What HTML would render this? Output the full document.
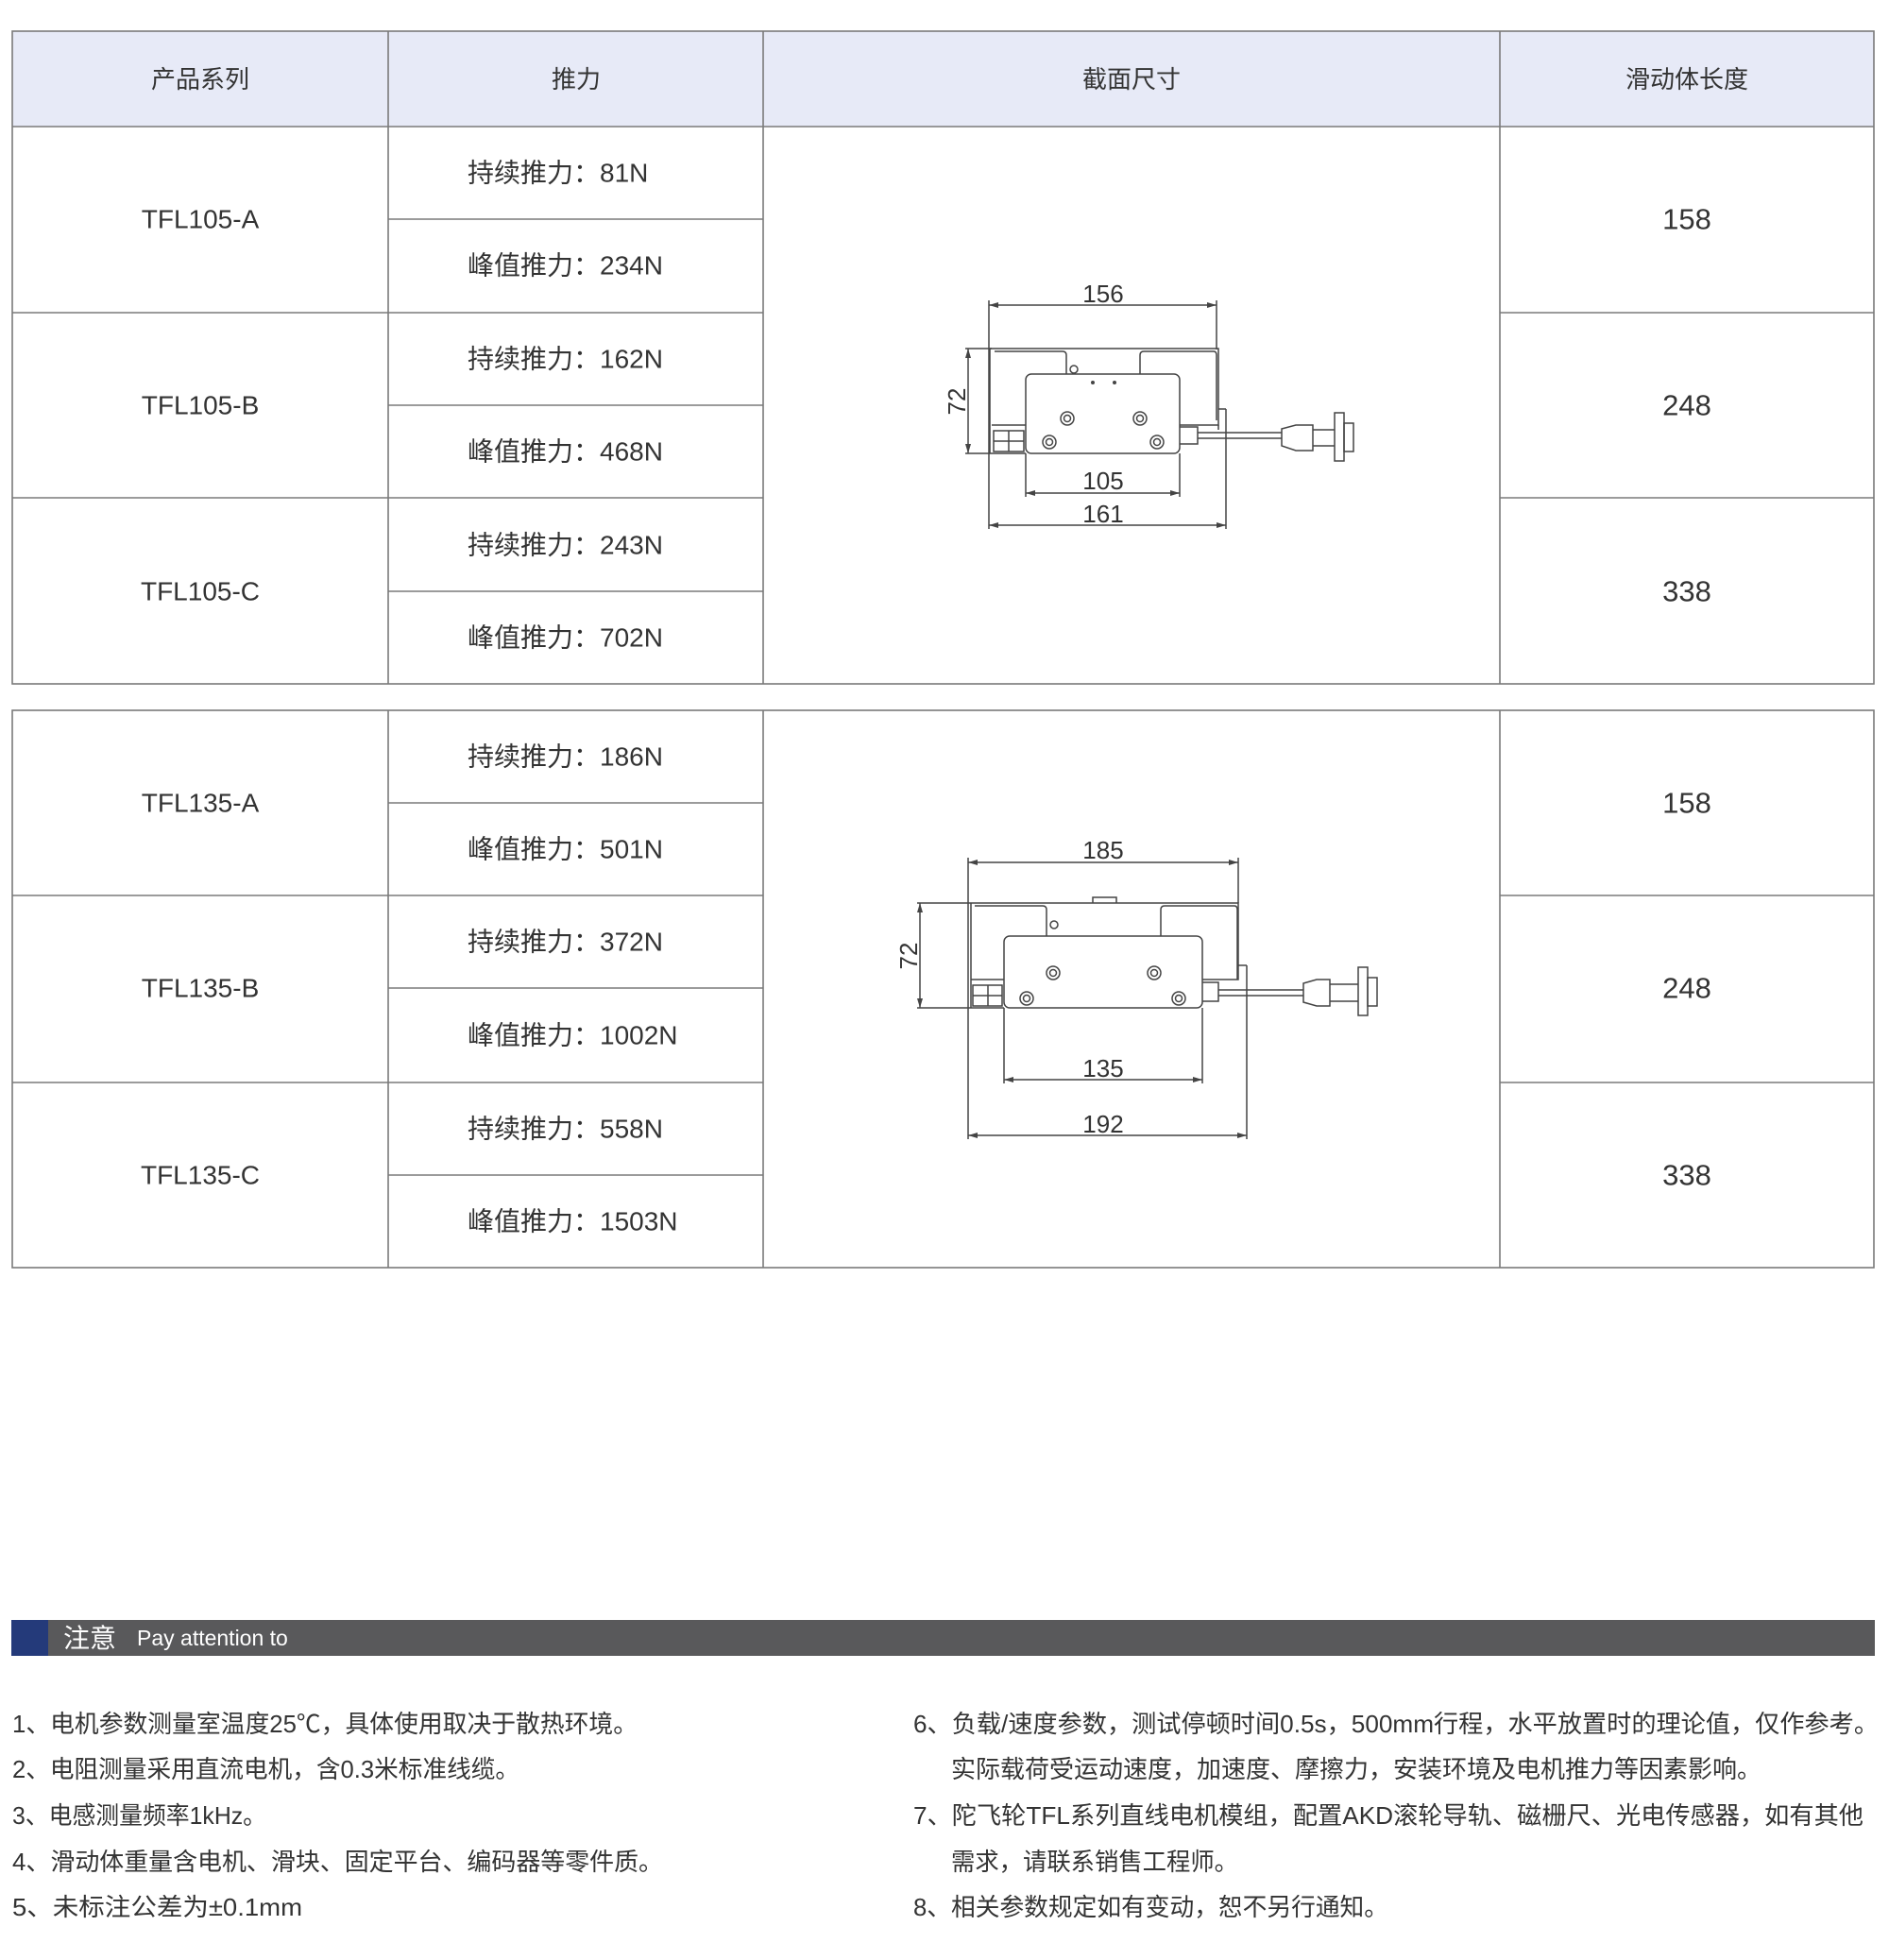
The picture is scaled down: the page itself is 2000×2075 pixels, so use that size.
<!DOCTYPE html>
<html><head><meta charset="utf-8"><style>
html,body{margin:0;padding:0;background:#fff;}
svg{display:block;}
text{font-family:"Liberation Sans","Noto Sans CJK SC",sans-serif;fill:#333;}
</style></head><body>
<svg width="2000" height="2075" viewBox="0 0 2000 2075" xmlns="http://www.w3.org/2000/svg">
<defs>
<marker id="ar" viewBox="0 0 10 6" refX="10" refY="3" markerWidth="10" markerHeight="6" markerUnits="userSpaceOnUse" orient="auto-start-reverse"><path d="M0 0 L10 3 L0 6 Z" fill="#444"/></marker>
</defs>
<!-- Table 1 -->
<rect x="13" y="33" width="1971" height="101" fill="#e7eaf7"/>
<g stroke="#7a7a7a" stroke-width="1.6" fill="none">
<rect x="13" y="33" width="1971" height="691"/>
<line x1="13" y1="134" x2="1984" y2="134"/>
<line x1="411" y1="33" x2="411" y2="724"/><line x1="808" y1="33" x2="808" y2="724"/><line x1="1588" y1="33" x2="1588" y2="724"/>
<line x1="13" y1="331" x2="808" y2="331"/><line x1="13" y1="527" x2="808" y2="527"/>
<line x1="1588" y1="331" x2="1984" y2="331"/><line x1="1588" y1="527" x2="1984" y2="527"/>
<line x1="411" y1="232" x2="808" y2="232"/><line x1="411" y1="429" x2="808" y2="429"/><line x1="411" y1="626" x2="808" y2="626"/>
</g>
<g font-size="26" text-anchor="middle" dominant-baseline="central">
<text x="212" y="84">产品系列</text><text x="610" y="84">推力</text><text x="1198" y="84">截面尺寸</text><text x="1786" y="84">滑动体长度</text>
</g>
<g font-size="28" dominant-baseline="central">
<text x="212" y="232" text-anchor="middle">TFL105-A</text>
<text x="212" y="429" text-anchor="middle">TFL105-B</text>
<text x="212" y="626" text-anchor="middle">TFL105-C</text>
<text x="495" y="183">持续推力：81N</text>
<text x="495" y="281">峰值推力：234N</text>
<text x="495" y="380">持续推力：162N</text>
<text x="495" y="478">峰值推力：468N</text>
<text x="495" y="577">持续推力：243N</text>
<text x="495" y="675">峰值推力：702N</text>
</g>
<g font-size="31" text-anchor="middle" dominant-baseline="central">
<text x="1786" y="232">158</text><text x="1786" y="429">248</text><text x="1786" y="626">338</text>
</g>

<!-- Table 2 -->
<g stroke="#7a7a7a" stroke-width="1.6" fill="none">
<rect x="13" y="752" width="1971" height="590"/>
<line x1="411" y1="752" x2="411" y2="1342"/><line x1="808" y1="752" x2="808" y2="1342"/><line x1="1588" y1="752" x2="1588" y2="1342"/>
<line x1="13" y1="948" x2="808" y2="948"/><line x1="13" y1="1146" x2="808" y2="1146"/>
<line x1="1588" y1="948" x2="1984" y2="948"/><line x1="1588" y1="1146" x2="1984" y2="1146"/>
<line x1="411" y1="850" x2="808" y2="850"/><line x1="411" y1="1046" x2="808" y2="1046"/><line x1="411" y1="1244" x2="808" y2="1244"/>
</g>
<g font-size="28" dominant-baseline="central">
<text x="212" y="850" text-anchor="middle">TFL135-A</text>
<text x="212" y="1046" text-anchor="middle">TFL135-B</text>
<text x="212" y="1244" text-anchor="middle">TFL135-C</text>
<text x="495" y="801">持续推力：186N</text>
<text x="495" y="899">峰值推力：501N</text>
<text x="495" y="997">持续推力：372N</text>
<text x="495" y="1096">峰值推力：1002N</text>
<text x="495" y="1195">持续推力：558N</text>
<text x="495" y="1293">峰值推力：1503N</text>
</g>
<g font-size="31" text-anchor="middle" dominant-baseline="central">
<text x="1786" y="850">158</text><text x="1786" y="1046">248</text><text x="1786" y="1244">338</text>
</g>

<!-- Drawing 1 -->
<g stroke="#444" stroke-width="1.5" fill="none">
<line x1="1047" y1="323" x2="1288" y2="323" marker-start="url(#ar)" marker-end="url(#ar)"/>
<line x1="1047" y1="318" x2="1047" y2="560"/><line x1="1288" y1="318" x2="1288" y2="370"/>
<line x1="1047" y1="556" x2="1298" y2="556" marker-start="url(#ar)" marker-end="url(#ar)"/><line x1="1298" y1="433" x2="1298" y2="560"/>
<line x1="1086" y1="522" x2="1249" y2="522" marker-start="url(#ar)" marker-end="url(#ar)"/><line x1="1086" y1="480" x2="1086" y2="526"/><line x1="1249" y1="480" x2="1249" y2="526"/>
<line x1="1025" y1="369" x2="1025" y2="480" marker-start="url(#ar)" marker-end="url(#ar)"/><line x1="1022" y1="369" x2="1050" y2="369"/><line x1="1022" y1="480" x2="1086" y2="480"/>
<path d="M1048 369 H1290 V450 H1249"/>
<path d="M1048 369 V480"/>
<path d="M1053 372 H1125 Q1129 372 1129 376 V396"/>
<path d="M1207 396 V376 Q1207 372 1211 372 H1285 Q1288 372 1288 376 V445"/>
<rect x="1086" y="396" width="163" height="84" rx="6"/>
<circle cx="1137" cy="391" r="4"/>
<circle cx="1130" cy="443" r="7"/><circle cx="1130" cy="443" r="3.5"/>
<circle cx="1207" cy="443" r="7"/><circle cx="1207" cy="443" r="3.5"/>
<circle cx="1111" cy="468" r="7"/><circle cx="1111" cy="468" r="3.5"/>
<circle cx="1225" cy="468" r="7"/><circle cx="1225" cy="468" r="3.5"/>
<path d="M1050 450 H1086 M1052 456 H1084 V478 H1052 Z M1052 467 H1084 M1068 456 V478"/>
<path d="M1249 452 H1268 V470 H1249"/>
<path d="M1290 433 H1298 M1290 450 V455"/>
<path d="M1268 458 H1357 M1268 464 H1357"/>
<path d="M1357 454 L1372 450 H1390 V477 H1372 L1357 472 Z"/>
<path d="M1390 455 H1413 M1390 472 H1413"/>
<rect x="1413" y="437" width="10" height="51"/>
<rect x="1423" y="448" width="10" height="30"/>
</g>
<circle cx="1157" cy="405" r="2" fill="#444"/><circle cx="1180" cy="405" r="2" fill="#444"/>
<g font-size="26" text-anchor="middle">
<text x="1168" y="320">156</text>
<text x="1168" y="518">105</text>
<text x="1168" y="553">161</text>
<text transform="translate(1022,425) rotate(-90)" text-anchor="middle">72</text>
</g>

<!-- Drawing 2 -->
<g stroke="#444" stroke-width="1.5" fill="none">
<line x1="1025" y1="913" x2="1311" y2="913" marker-start="url(#ar)" marker-end="url(#ar)"/>
<line x1="1025" y1="908" x2="1025" y2="1206"/><line x1="1311" y1="908" x2="1311" y2="956"/>
<line x1="1025" y1="1202" x2="1320" y2="1202" marker-start="url(#ar)" marker-end="url(#ar)"/><line x1="1320" y1="1022" x2="1320" y2="1206"/>
<line x1="1063" y1="1143" x2="1273" y2="1143" marker-start="url(#ar)" marker-end="url(#ar)"/><line x1="1063" y1="1067" x2="1063" y2="1147"/><line x1="1273" y1="1067" x2="1273" y2="1147"/>
<line x1="974" y1="956" x2="974" y2="1067" marker-start="url(#ar)" marker-end="url(#ar)"/><line x1="971" y1="956" x2="1028" y2="956"/><line x1="971" y1="1067" x2="1063" y2="1067"/>
<path d="M1028 956 H1311 V1037 H1273"/>
<path d="M1028 956 V1067"/>
<path d="M1032 959 H1104 Q1108 959 1108 963 V991"/>
<path d="M1229 991 V963 Q1229 959 1233 959 H1307 Q1310 959 1310 963 V1037"/>
<path d="M1157 956 V950 H1182 V956"/>
<rect x="1063" y="991" width="210" height="76" rx="6"/>
<circle cx="1116" cy="979" r="4"/>
<circle cx="1115" cy="1030" r="7"/><circle cx="1115" cy="1030" r="3.5"/>
<circle cx="1222" cy="1030" r="7"/><circle cx="1222" cy="1030" r="3.5"/>
<circle cx="1087" cy="1057" r="7"/><circle cx="1087" cy="1057" r="3.5"/>
<circle cx="1248" cy="1057" r="7"/><circle cx="1248" cy="1057" r="3.5"/>
<path d="M1028 1037 H1063 M1030 1043 H1061 V1065 H1030 Z M1030 1054 H1061 M1046 1043 V1065"/>
<path d="M1273 1040 H1290 V1060 H1273"/>
<path d="M1311 1022 H1320"/>
<path d="M1290 1048 H1380 M1290 1054 H1380"/>
<path d="M1380 1041 L1394 1037 H1408 V1065 H1394 L1380 1061 Z"/>
<path d="M1408 1042 H1438 M1408 1060 H1438"/>
<rect x="1438" y="1024" width="10" height="51"/>
<rect x="1448" y="1035" width="10" height="30"/>
</g>
<g font-size="26" text-anchor="middle">
<text x="1168" y="909">185</text>
<text x="1168" y="1140">135</text>
<text x="1168" y="1199">192</text>
<text transform="translate(971,1012) rotate(-90)" text-anchor="middle">72</text>
</g>

<!-- Notice bar -->
<rect x="12" y="1715" width="1973" height="38" fill="#59595b"/>
<rect x="12" y="1715" width="39" height="38" fill="#243a7a"/>
<text x="67" y="1744" font-size="28" style="fill:#fff">注意</text>
<text x="145" y="1742" font-size="23" style="fill:#fff">Pay attention to</text>

<!-- Notes -->
<g font-size="26" dominant-baseline="central" style="fill:#444">
<text x="13" y="1825" textLength="662" lengthAdjust="spacingAndGlyphs">1、电机参数测量室温度25℃，具体使用取决于散热环境。</text>
<text x="13" y="1873" textLength="537" lengthAdjust="spacingAndGlyphs">2、电阻测量采用直流电机，含0.3米标准线缆。</text>
<text x="13" y="1922" textLength="269" lengthAdjust="spacingAndGlyphs">3、电感测量频率1kHz。</text>
<text x="13" y="1971" textLength="689" lengthAdjust="spacingAndGlyphs">4、滑动体重量含电机、滑块、固定平台、编码器等零件质。</text>
<text x="13" y="2019" textLength="307" lengthAdjust="spacingAndGlyphs">5、未标注公差为±0.1mm</text>
<text x="967" y="1825" textLength="1022" lengthAdjust="spacingAndGlyphs">6、负载/速度参数，测试停顿时间0.5s，500mm行程，水平放置时的理论值，仅作参考。</text>
<text x="1007" y="1873" textLength="858" lengthAdjust="spacingAndGlyphs">实际载荷受运动速度，加速度、摩擦力，安装环境及电机推力等因素影响。</text>
<text x="967" y="1922" textLength="1006" lengthAdjust="spacingAndGlyphs">7、陀飞轮TFL系列直线电机模组，配置AKD滚轮导轨、磁栅尺、光电传感器，如有其他</text>
<text x="1007" y="1971" textLength="304" lengthAdjust="spacingAndGlyphs">需求，请联系销售工程师。</text>
<text x="967" y="2019" textLength="503" lengthAdjust="spacingAndGlyphs">8、相关参数规定如有变动，恕不另行通知。</text>
</g>
</svg>
</body></html>
